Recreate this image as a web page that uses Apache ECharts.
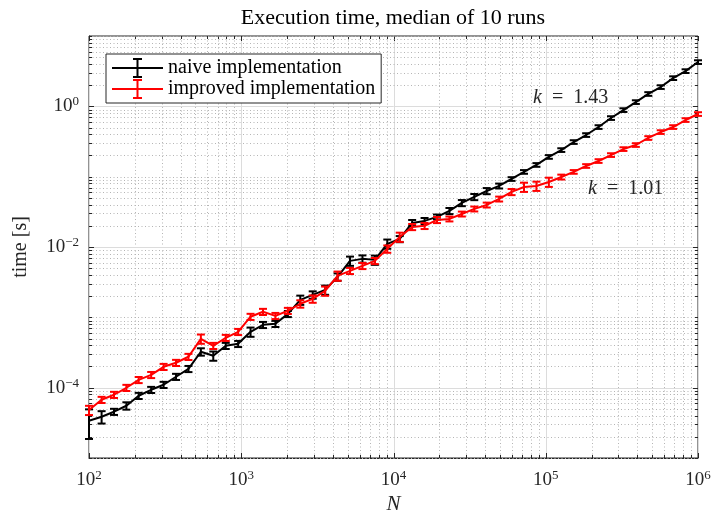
<!DOCTYPE html>
<html>
<head>
<meta charset="utf-8">
<title>Execution time, median of 10 runs</title>
<script src="https://cdn.jsdelivr.net/npm/echarts@6/dist/echarts.min.js"></script>
<style>
html, body { margin: 0; padding: 0; background: #fff; }
#main { width: 713px; height: 516px; }
</style>
</head>
<body>
<div id="main"></div>
<script type="text/javascript">
// problem sizes N
var sizes = [100, 121, 146, 176, 212, 256, 309, 373, 450, 543,
             655, 791, 954, 1151, 1389, 1677, 2024, 2442, 2947, 3556,
             4292, 5179, 6251, 7543, 9103, 10985, 13257, 15999, 19307, 23300,
             28118, 33932, 40949, 49417, 59636, 71969, 86851, 104811, 126486, 152642,
             184207, 222300, 268270, 323746, 390694, 471487, 568987, 686649, 828643, 1000000];

// median time [s]
var naiveTime = [3.39e-5, 3.86e-5, 4.55e-5, 5.53e-5, 7.67e-5, 9.33e-5, 1.10e-4, 1.43e-4, 1.85e-4, 3.24e-4,
                 2.84e-4, 3.94e-4, 4.20e-4, 6.22e-4, 7.82e-4, 8.09e-4, 1.12e-3, 1.77e-3, 2.09e-3, 2.46e-3,
                 3.76e-3, 6.35e-3, 6.78e-3, 6.56e-3, 1.11e-2, 1.30e-2, 2.20e-2, 2.35e-2, 2.68e-2, 3.26e-2,
                 4.23e-2, 5.15e-2, 6.26e-2, 7.38e-2, 9.27e-2, 0.117, 0.147, 0.191, 0.239, 0.311,
                 0.391, 0.508, 0.682, 0.885, 1.15, 1.50, 1.88, 2.52, 3.17, 4.26];
var improvedTime = [4.80e-5, 6.73e-5, 7.93e-5, 9.97e-5, 1.29e-4, 1.52e-4, 1.98e-4, 2.26e-4, 2.75e-4, 4.95e-4,
                    3.94e-4, 5.12e-4, 6.22e-4, 1.02e-3, 1.20e-3, 1.05e-3, 1.24e-3, 1.56e-3, 1.83e-3, 2.38e-3,
                    3.89e-3, 4.58e-3, 5.39e-3, 6.35e-3, 9.40e-3, 1.39e-2, 1.93e-2, 2.00e-2, 2.43e-2, 2.51e-2,
                    2.95e-2, 3.48e-2, 3.96e-2, 4.82e-2, 6.07e-2, 7.14e-2, 7.38e-2, 8.41e-2, 9.90e-2, 0.117,
                    0.142, 0.167, 0.203, 0.247, 0.282, 0.355, 0.431, 0.508, 0.639, 0.778];

// relative spread of the error bars
var naiveErr = [0.45, 0.20, 0.10, 0.12, 0.10, 0.10, 0.10, 0.10, 0.10, 0.12,
                0.15, 0.10, 0.10, 0.15, 0.10, 0.10, 0.10, 0.15, 0.12, 0.15,
                0.12, 0.15, 0.12, 0.15, 0.15, 0.10, 0.10, 0.10, 0.08, 0.10,
                0.10, 0.10, 0.10, 0.08, 0.06, 0.06, 0.06, 0.06, 0.06, 0.06,
                0.06, 0.06, 0.06, 0.06, 0.06, 0.06, 0.06, 0.06, 0.06, 0.06];
var improvedErr = [0.15, 0.10, 0.10, 0.10, 0.10, 0.10, 0.10, 0.10, 0.10, 0.15,
                   0.10, 0.10, 0.10, 0.10, 0.10, 0.10, 0.10, 0.12, 0.12, 0.15,
                   0.15, 0.10, 0.10, 0.10, 0.12, 0.15, 0.10, 0.10, 0.10, 0.08,
                   0.08, 0.08, 0.08, 0.08, 0.10, 0.15, 0.15, 0.15, 0.08, 0.06,
                   0.06, 0.06, 0.06, 0.06, 0.06, 0.06, 0.06, 0.06, 0.06, 0.06];

var seriesNames = ['naive implementation', 'improved implementation'];
var slopeLabels = ['1.43', '1.01'];
var titleText = 'Execution time, median of 10 runs';

var serif = "'Liberation Serif', 'DejaVu Serif', serif";
var ink = '#262626';
var xMin = 1e2, xMax = 1e6, yMin = 1e-5, yMax = 1e1;

// grid lines + ticks (MATLAB style box)
var gridLines = [];
for (var d = 2; d <= 5; d++) {
    for (var m = 1; m <= 9; m++) {
        gridLines.push({dir: 'x', v: m * Math.pow(10, d), major: m === 1});
    }
}
gridLines.push({dir: 'x', v: 1e6, major: true});
for (var d = -5; d <= 0; d++) {
    for (var m = 1; m <= 9; m++) {
        gridLines.push({dir: 'y', v: m * Math.pow(10, d), major: m === 1 && d % 2 === 0});
    }
}
gridLines.push({dir: 'y', v: 10, major: false});

function px(v) { return Math.round(v) + 0.5; }

function renderGrid(params, api) {
    var g = gridLines[params.dataIndex];
    var kids = [];
    var len = g.major ? 5 : 3;
    var lineStyle = g.major
        ? {stroke: '#dcdcdc', lineWidth: 1}
        : {stroke: '#b5b5b5', lineWidth: 1, lineDash: [1, 2.5]};
    var tickStyle = {stroke: ink, lineWidth: 1};
    if (g.dir === 'x') {
        var b = api.coord([g.v, yMin]), t = api.coord([g.v, yMax]);
        var x = px(b[0]);
        kids.push({type: 'line', shape: {x1: x, y1: b[1], x2: x, y2: t[1]}, style: lineStyle});
        kids.push({type: 'line', shape: {x1: x, y1: b[1], x2: x, y2: b[1] - len}, style: tickStyle});
        kids.push({type: 'line', shape: {x1: x, y1: t[1], x2: x, y2: t[1] + len}, style: tickStyle});
    } else {
        var l = api.coord([xMin, g.v]), r = api.coord([xMax, g.v]);
        var y = px(l[1]);
        kids.push({type: 'line', shape: {x1: l[0], y1: y, x2: r[0], y2: y}, style: lineStyle});
        kids.push({type: 'line', shape: {x1: l[0], y1: y, x2: l[0] + len, y2: y}, style: tickStyle});
        kids.push({type: 'line', shape: {x1: r[0], y1: y, x2: r[0] - len, y2: y}, style: tickStyle});
    }
    return {type: 'group', children: kids};
}

function errorRenderer(color) {
    return function (params, api) {
        var lo = api.coord([api.value(0), api.value(1)]);
        var hi = api.coord([api.value(0), api.value(2)]);
        var w = 4;
        var st = {stroke: color, lineWidth: 2};
        return {
            type: 'group',
            children: [
                {type: 'line', shape: {x1: lo[0], y1: lo[1], x2: hi[0], y2: hi[1]}, style: st},
                {type: 'line', shape: {x1: lo[0] - w, y1: lo[1], x2: lo[0] + w, y2: lo[1]}, style: st},
                {type: 'line', shape: {x1: hi[0] - w, y1: hi[1], x2: hi[0] + w, y2: hi[1]}, style: st}
            ]
        };
    };
}

function pairs(times) {
    return sizes.map(function (n, i) { return [n, times[i]]; });
}
function bars(times, errs) {
    return sizes.map(function (n, i) { return [n, times[i] * (1 - errs[i]), times[i] * (1 + errs[i])]; });
}

function pow10(v) {
    var e = Math.round(Math.log(v) / Math.LN10);
    return '{b|10}{e|' + (e < 0 ? '\u2212' + (-e) : e) + '}';
}
var powRich = {
    b: {fontFamily: serif, fontSize: 19, color: ink},
    e: {fontFamily: serif, fontSize: 13, color: ink, padding: [0, 0, 9, 0]}
};

var legendIcon = 'path://M0,9h51v2h-51z M24.5,1h2v18h-2z M21,0h9v2h-9z M21,18h9v2h-9z';

var myChart = echarts.init(document.getElementById('main'));
var option = {
    animation: false,
    backgroundColor: '#fff',
    title: {
        text: titleText,
        left: 388,
        top: 2,
        textAlign: 'center',
        textStyle: {fontFamily: serif, fontSize: 22, fontWeight: 'normal', color: '#000'}
    },
    legend: {
        data: [{name: seriesNames[0], icon: legendIcon}, {name: seriesNames[1], icon: legendIcon}],
        orient: 'vertical',
        left: 106,
        top: 54,
        padding: [4, 6, 4, 6],
        itemWidth: 51,
        itemHeight: 20,
        itemGap: 1,
        selectedMode: false,
        backgroundColor: '#fff',
        borderColor: ink,
        borderWidth: 1,
        borderRadius: 0,
        textStyle: {fontFamily: serif, fontSize: 20, lineHeight: 20, color: '#000'}
    },
    grid: {
        left: 89, right: 15, top: 36, bottom: 58,
        outerBoundsMode: 'none',
        containLabel: false,
        show: true, borderColor: ink, borderWidth: 1, backgroundColor: '#fff'
    },
    xAxis: {
        type: 'log', logBase: 10, min: xMin, max: xMax,
        name: 'N', nameLocation: 'middle', nameGap: 36,
        nameTextStyle: {fontFamily: serif, fontStyle: 'italic', fontSize: 21, color: ink},
        axisLine: {show: true, onZero: false, lineStyle: {color: ink, width: 1}},
        axisTick: {show: false},
        splitLine: {show: false},
        axisLabel: {margin: 11, formatter: pow10, rich: powRich}
    },
    yAxis: {
        type: 'log', logBase: 10, min: yMin, max: yMax,
        name: 'time [s]', nameLocation: 'middle', nameGap: 58,
        nameTextStyle: {fontFamily: serif, fontSize: 20, color: ink},
        axisLine: {show: true, onZero: false, lineStyle: {color: ink, width: 1}},
        axisTick: {show: false},
        splitLine: {show: false},
        axisLabel: {
            margin: 10,
            formatter: function (v) {
                var e = Math.round(Math.log(v) / Math.LN10);
                if (e % 2 !== 0 || e < -4 || e > 0) return '';
                return pow10(v);
            },
            rich: powRich
        }
    },
    graphic: [
        {type: 'text', left: 533, top: 88, z: 10,
         style: {text: '{i|k}\u2002=\u2002' + slopeLabels[0], fill: ink, fontFamily: serif, fontSize: 20,
                  rich: {i: {fontStyle: 'italic', fontFamily: serif, fontSize: 20, fill: ink}}}},
        {type: 'text', left: 588, top: 179, z: 10,
         style: {text: '{i|k}\u2002=\u2002' + slopeLabels[1], fill: ink, fontFamily: serif, fontSize: 20,
                  rich: {i: {fontStyle: 'italic', fontFamily: serif, fontSize: 20, fill: ink}}}}
    ],
    series: [
        {
            name: 'grid', type: 'custom', z: 1, silent: true,
            renderItem: renderGrid,
            data: gridLines.map(function (g) { return g.dir === 'x' ? [g.v, 1] : [1000, g.v]; })
        },
        {
            name: seriesNames[0], type: 'line', z: 3, color: '#000',
            showSymbol: false, symbol: 'none',
            lineStyle: {color: '#000', width: 2},
            data: pairs(naiveTime)
        },
        {
            name: 'naive-err', type: 'custom', z: 3, silent: true,
            renderItem: errorRenderer('#000'),
            encode: {x: 0, y: [1, 2]},
            data: bars(naiveTime, naiveErr)
        },
        {
            name: seriesNames[1], type: 'line', z: 4, color: '#ff0000',
            showSymbol: false, symbol: 'none',
            lineStyle: {color: '#ff0000', width: 2},
            data: pairs(improvedTime)
        },
        {
            name: 'improved-err', type: 'custom', z: 4, silent: true,
            renderItem: errorRenderer('#ff0000'),
            encode: {x: 0, y: [1, 2]},
            data: bars(improvedTime, improvedErr)
        }
    ]
};
myChart.setOption(option);
</script>
</body>
</html>
